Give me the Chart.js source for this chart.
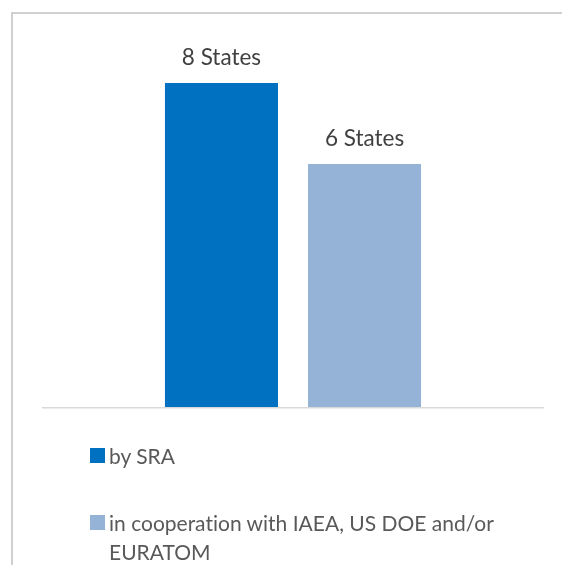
<!DOCTYPE html>
<html>
<head>
<meta charset="utf-8">
<script src="https://cdn.jsdelivr.net/npm/chart.js@4"></script>
<style>
  html, body { margin: 0; padding: 0; background: #ffffff; }
  body { width: 562px; height: 565px; position: relative; overflow: hidden; font-family: Lato, "Open Sans", sans-serif; font-variant-ligatures: none; }
  #frame { position: absolute; left: 11px; top: 12px; width: 600px; height: 600px; border: 2px solid #d0d0d0; box-sizing: border-box; }
  #chart { position: absolute; left: 0; top: 0; }
  #legend { position: absolute; left: 90px; top: 0; width: 440px; }
  .item { position: absolute; left: 0; width: 440px; color: #595959; font-size: 21px; line-height: 29px; }
  .swatch { position: absolute; left: 0; width: 15px; height: 15px; }
  .text { position: absolute; left: 19px; width: 400px; }
</style>
</head>
<body>
<div id="frame"></div>
<canvas id="chart" width="562" height="565"></canvas>
<div id="legend"></div>
<script>
// Safeguards agreements concluded, by party
const categories = ["States"];
const seriesNames = ["by SRA", "in cooperation with IAEA, US DOE and/or EURATOM"];
const seriesValues = [[8], [6]];
const seriesColors = ["#0070C0", "#95B3D7"];
const valueSuffix = " States";

// Labels above each bar, taken from the bar's own value
const valueLabels = {
  id: "valueLabels",
  afterDatasetsDraw(chart) {
    const ctx = chart.ctx;
    ctx.save();
    ctx.font = "22.5px Lato";
    ctx.fillStyle = "#404040";
    ctx.textAlign = "center";
    ctx.textBaseline = "alphabetic";
    chart.data.datasets.forEach((ds, i) => {
      chart.getDatasetMeta(i).data.forEach((bar, j) => {
        ctx.fillText(ds.data[j] + valueSuffix, bar.x, bar.y - 18);
      });
    });
    ctx.restore();
  }
};

// Horizontal base line at zero across the plot area
const baseLine = {
  id: "baseLine",
  beforeDatasetsDraw(chart) {
    const ctx = chart.ctx;
    const y = chart.scales.y.getPixelForValue(0);
    ctx.save();
    ctx.strokeStyle = "#d9d9d9";
    ctx.lineWidth = 1.5;
    ctx.beginPath();
    ctx.moveTo(chart.chartArea.left, y + 0.75);
    ctx.lineTo(chart.chartArea.right, y + 0.75);
    ctx.stroke();
    ctx.restore();
  }
};

const chart = new Chart(document.getElementById("chart"), {
  type: "bar",
  data: {
    labels: categories,
    datasets: seriesNames.map((name, i) => ({
      label: name,
      data: seriesValues[i],
      backgroundColor: seriesColors[i],
      borderWidth: 0,
      categoryPercentage: 0.57,
      barPercentage: 0.79
    }))
  },
  options: {
    responsive: false,
    animation: false,
    devicePixelRatio: 1,
    layout: { padding: { left: 42, right: 18, top: 42.5, bottom: 158 } },
    plugins: { legend: { display: false }, tooltip: { enabled: false } },
    scales: {
      x: { display: false },
      y: { display: false, min: 0, max: 9 }
    }
  },
  plugins: [baseLine, valueLabels]
});

// Legend built from the chart's datasets
const legendTops = [441, 508];
const legend = document.getElementById("legend");
chart.data.datasets.forEach((ds, i) => {
  const item = document.createElement("div");
  item.className = "item";
  item.style.top = legendTops[i] + "px";
  const sw = document.createElement("div");
  sw.className = "swatch";
  sw.style.background = ds.backgroundColor;
  sw.style.top = "7px";
  const tx = document.createElement("div");
  tx.className = "text";
  tx.textContent = ds.label;
  item.appendChild(sw);
  item.appendChild(tx);
  legend.appendChild(item);
});
</script>
</body>
</html>
